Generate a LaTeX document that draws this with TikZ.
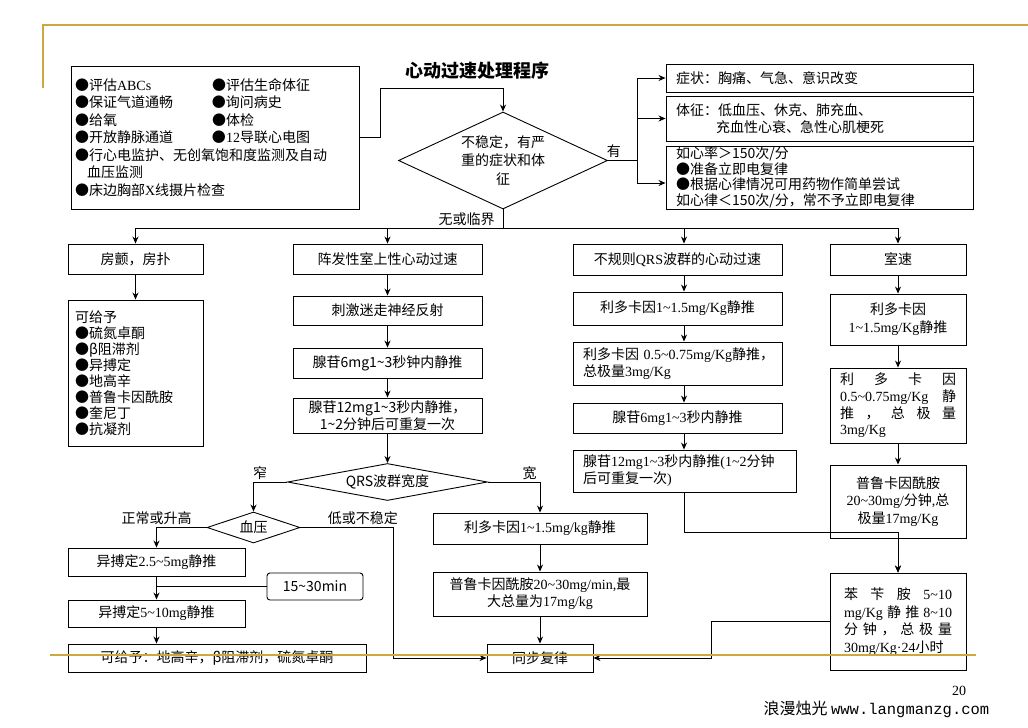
\documentclass[tikz,border=0pt]{standalone}
\usepackage{fontspec}
\setmainfont{Noto Sans CJK SC}
\newfontfamily\enfont{Liberation Serif}
\newfontfamily\wwwfont{Liberation Mono}
\usetikzlibrary{shapes.geometric,arrows.meta,calc}
\definecolor{gold}{RGB}{204,168,62}
\newcommand{\en}[1]{{\enfont #1}}
\newcommand{\tld}{\textasciitilde}
\setlength{\parindent}{0pt}
\begin{document}
\begin{tikzpicture}[x=1pt,y=-1pt]
	\tikzstyle{Box} = [rectangle, draw=black, line width=0.9pt, fill=white, font=\fontsize{14}{17}\selectfont, inner sep=2pt, align=center]
	\tikzstyle{Text} = [Box, align=left]
	\tikzstyle{Decision} = [diamond, draw=black, line width=0.9pt, fill=white, font=\fontsize{14}{17}\selectfont, inner sep=0pt, align=center]
	\tikzstyle{Label} = [font=\fontsize{14}{17}\selectfont, inner sep=2pt]
	\tikzstyle{arrow} = [line width=0.9pt,->,>={Stealth[length=7pt,width=6pt]}]
	\tikzstyle{Line} = [line width=0.9pt]
	\tikzstyle{Frame} = [gold, line width=2pt]

	\fill[white] (0,0) rectangle (1028,728);
	\useasboundingbox (0,0) rectangle (1028,728);

	% first look
	\node (title) at (477,71) {\fontsize{18}{20}\selectfont\bfseries 心动过速处理程序};
	\node (assess) [Text, text width=280pt, inner xsep=4pt, minimum height=143pt, font=\fontsize{14}{17.5}\selectfont] at (215,137.5) {%
		\makebox[137pt][l]{●评估\en{ABCs}}●评估生命体征\\
		\makebox[137pt][l]{●保证气道通畅}●询问病史\\
		\makebox[137pt][l]{●给氧}●体检\\
		\makebox[137pt][l]{●开放静脉通道}●\en{12}导联心电图\\
		●行心电监护、无创氧饱和度监测及自动\\
		\hspace*{12pt}血压监测\\
		●床边胸部\en{X}线摄片检查};
	\node (unstable) [Decision, minimum width=209pt, minimum height=97pt, shape aspect=2.15, font=\fontsize{14}{18.5}\selectfont] at (503,160.5) {不稳定，有严\\重的症状和体\\征};
	\node (sym) [Text, text width=287pt, inner xsep=10pt, minimum height=28pt] at (819.5,78) {症状：胸痛、气急、意识改变};
	\node (sign) [Text, text width=287pt, inner xsep=10pt, minimum height=45pt, font=\fontsize{14}{16.5}\selectfont] at (819.5,118.5) {体征：低血压、休克、肺充血、\\\hspace*{40pt}充血性心衰、急性心肌梗死};
	\node (rate) [Text, text width=287pt, inner xsep=10pt, inner ysep=1pt, minimum height=63pt, font=\fontsize{14}{15.5}\selectfont] at (819.5,177.5) {如心率＞150次/分\\●准备立即电复律\\●根据心律情况可用药物作简单尝试\\如心律＜150次/分，常不予立即电复律};

	% rhythm types
	\node (af) [Box, minimum width=135pt, minimum height=30pt] at (135.5,259) {房颤，房扑};
	\node (psvt) [Box, minimum width=189pt, minimum height=30pt] at (387.5,259) {阵发性室上性心动过速};
	\node (irr) [Box, minimum width=209pt, minimum height=31pt] at (677.5,259.5) {不规则\en{QRS}波群的心动过速};
	\node (vt) [Box, minimum width=136pt, minimum height=31pt] at (898,259.5) {室速};

	\node (drugs) [Text, text width=121pt, inner xsep=7pt, minimum height=146pt, font=\fontsize{14}{16}\selectfont] at (135.5,373) {可给予\\●硫氮卓酮\\●β阻滞剂\\●异搏定\\●地高辛\\●普鲁卡因酰胺\\●奎尼丁\\●抗凝剂};

	\node (vagal) [Box, minimum width=189pt, minimum height=29pt] at (387.5,310.5) {刺激迷走神经反射};
	\node (ade6) [Box, minimum width=189pt, minimum height=30pt] at (387.5,363) {腺苷6mg1\tld 3秒钟内静推};
	\node (ade12) [Box, minimum width=189pt, minimum height=35pt, font=\fontsize{14}{16.5}\selectfont] at (387.5,415.5) {腺苷12mg1\tld 3秒内静推，\\1\tld 2分钟后可重复一次};
	\node (qrs) [Decision, minimum width=200pt, minimum height=37pt, shape aspect=5.4] at (387.5,482) {QRS波群宽度};
	\node (bp) [Decision, minimum width=93pt, minimum height=31pt, shape aspect=3] at (253.5,527.5) {血压};
	\node (vera1) [Box, minimum width=177pt, minimum height=28pt] at (156.5,562) {异搏定\en{2.5\tld 5mg}静推};
	\node (wait) [Box, rounded corners=3pt, minimum width=96pt, minimum height=27pt] at (315,586.5) {15\tld 30min};
	\node (vera2) [Box, minimum width=177pt, minimum height=27pt] at (156.5,613.5) {异搏定\en{5\tld 10mg}静推};
	\node (oral) [Box, minimum width=298pt, minimum height=28pt] at (217,658) {可给予：地高辛，β阻滞剂，硫氮卓酮};
	\node (lido) [Box, minimum width=214pt, minimum height=31pt] at (540,528.5) {利多卡因\en{1\tld 1.5mg/kg}静推};
	\node (proca) [Box, minimum width=214pt, minimum height=44pt] at (540,594) {普鲁卡因酰胺\en{20\tld 30mg/min,}最\\大总量为\en{17mg/kg}};
	\node (sync) [Box, minimum width=106pt, minimum height=28pt] at (540,658) {同步复律};

	\node (lid1) [Box, minimum width=209pt, minimum height=33pt] at (677.5,308.5) {利多卡因\en{1\tld 1.5mg/Kg}静推};
	\node (lid2) [Text, text width=189pt, inner xsep=10pt, minimum height=43pt] at (677.5,363.5) {\mbox{利多卡因 \en{0.5\tld 0.75mg/Kg}静推，}\\总极量\en{3mg/Kg}};
	\node (ade6b) [Box, minimum width=209pt, minimum height=30pt] at (677.5,418) {腺苷\en{6mg1\tld 3}秒内静推};
	\node (ade12b) [Text, text width=203pt, inner xsep=10pt, minimum height=42pt] at (684.5,471) {腺苷\en{12mg1\tld 3}秒内静推\en{(1\tld 2}分钟\\后可重复一次\en{)}};

	\node (vlid1) [Box, minimum width=136pt, minimum height=51pt, font=\fontsize{14}{18}\selectfont] at (898,319.5) {利多卡因\\\en{1\tld 1.5mg/Kg}静推};
	\node (vlid2) [Text, text width=116pt, inner xsep=10pt, minimum height=75pt, font=\fontsize{14}{16.7}\selectfont] at (898,405.5) {利\hfill 多\hfill 卡\hfill 因\\\en{0.5\tld 0.75mg/Kg}\hfill 静\\推\hfill ，\hfill 总\hfill 极\hfill 量\\\en{3mg/Kg}};
	\node (vproc) [Box, minimum width=136pt, minimum height=73pt, font=\fontsize{14}{17.5}\selectfont] at (898,501.5) {普鲁卡因酰胺\\\en{20\tld 30mg/}分钟\en{,}总\\极量\en{17mg/Kg}};
	\node (phen) [Text, text width=108pt, inner xsep=14pt, minimum height=97pt, font=\fontsize{14}{17.5}\selectfont] at (898,621.5) {苯\hfill 苄\hfill 胺\hfill \en{5\tld 10}\\\en{mg/Kg}\hfill 静\hfill 推\hfill \en{8\tld 10}\\分\hfill 钟\hfill ，\hfill 总\hfill 极\hfill 量\\\en{30mg/Kg·24}小时};

	% connectors
	\coordinate (fork) at (637,160.5);
	\coordinate (bus) at (503,228);
	\coordinate (col) at (684,0);
	\draw[arrow] (assess.east) -| (380,88) -| (unstable.north);
	\draw[Line] (unstable.east) -- node[Label, above, pos=0.2] {有} (fork);
	\draw[arrow] (fork) |- (sym.west);
	\draw[arrow] (fork) |- (sign.west);
	\draw[arrow] (fork) |- ($(rate.west)+(0,5.5)$);
	\draw[Line] (unstable.south) -- node[Label, left=6pt] {无或临界} (bus);
	\draw[Line] (bus -| af.north) -- (bus -| vt.north);
	\draw[arrow] (bus -| af.north) -- (af.north);
	\draw[arrow] (bus -| psvt.north) -- (psvt.north);
	\draw[arrow] (bus -| col) -- (irr.north -| col);
	\draw[arrow] (bus -| vt.north) -- (vt.north);

	\draw[arrow] (af) -- (drugs);

	\draw[arrow] (psvt) -- (vagal);
	\draw[arrow] (vagal) -- (ade6);
	\draw[arrow] (ade6) -- (ade12);
	\draw[arrow] (ade12) -- (qrs);
	\draw[arrow] (qrs.west) -| node[Label, above, pos=0.4] {窄} (bp.north);
	\draw[arrow] (qrs.east) -| node[Label, above, pos=0.4] {宽} (lido.north);
	\draw[arrow] (bp.west) -| node[Label, above, pos=0.5] {正常或升高} (vera1.north);
	\draw[arrow] (bp.east) -- node[Label, above, pos=0.67] {低或不稳定} ++(93,0) |- (sync.west);
	\draw[arrow] (vera1) -- (vera2);
	\draw[Line] (wait.west) -- (wait.west -| vera1.south);
	\draw[arrow] (vera2.south) -- (vera2.south |- oral.north);
	\draw[arrow] (lido) -- (proca);
	\draw[arrow] (proca) -- (sync);

	\draw[arrow] (irr.south -| col) -- (lid1.north -| col);
	\draw[arrow] (lid1.south -| col) -- (lid2.north -| col);
	\draw[arrow] (lid2.south -| col) -- (ade6b.north -| col);
	\draw[arrow] (ade6b.south -| col) -- (ade12b.north -| col);
	\draw[arrow] (ade12b.south) -- ++(0,40) -| (phen.north);

	\draw[arrow] (vt) -- (vlid1);
	\draw[arrow] (vlid1) -- (vlid2);
	\draw[arrow] (vlid2) -- (vproc);
	\draw[arrow] (vproc) -- (phen);
	\draw[arrow] (phen.west) -- ++(-118,0) |- (sync.east);

	% slide frame and footer
	\draw[Frame] (43,88) -- (43,25) -- (1028,25);
	\draw[Frame] (50,655) -- (976,655);
	\node (page) [font=\enfont\fontsize{14}{16}\selectfont] at (959,691) {20};
	\node (site) [anchor=west, font=\fontsize{16}{20}\selectfont] at (760,709) {浪漫烛光 {\wwwfont\fontsize{15.5}{18}\selectfont www.langmanzg.com}};
\end{tikzpicture}
\end{document}
